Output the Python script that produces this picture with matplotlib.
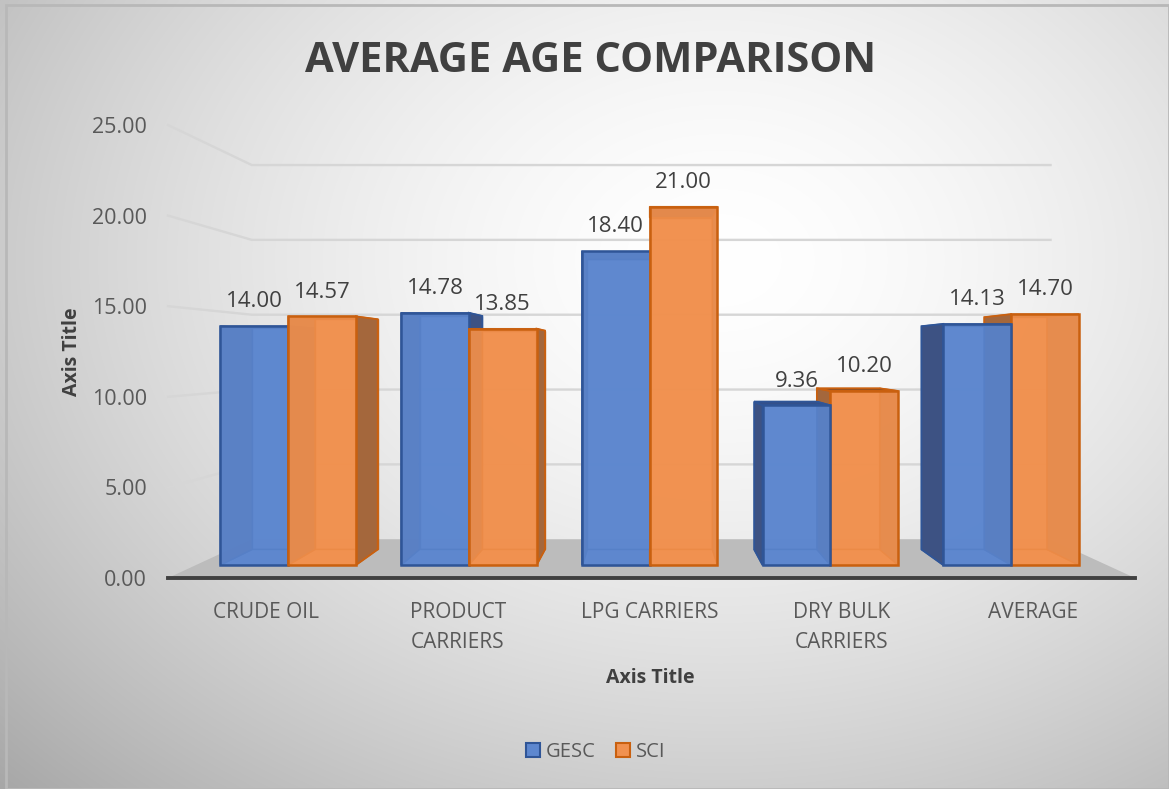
import numpy as np
import matplotlib
matplotlib.use("Agg")
import matplotlib.pyplot as plt
from matplotlib.patches import Polygon, Rectangle, Patch

plt.rcParams['font.family'] = ['Open Sans', 'DejaVu Sans']

categories = ["CRUDE OIL", "PRODUCT\nCARRIERS", "LPG CARRIERS", "DRY BULK\nCARRIERS", "AVERAGE"]
series_names = ["GESC", "SCI"]
gesc = [14.00, 14.78, 18.40, 9.36, 14.13]
sci = [14.57, 13.85, 21.00, 10.20, 14.70]
yticks = [0, 5, 10, 15, 20, 25]

# colours per series: front, side, top, edge
styles = {
    "GESC": dict(front="#5d87cf", side="#3d5283", top="#34508a", edge="#2f5597"),
    "SCI": dict(front="#f1914f", side="#a4673c", top="#8a4f26", edge="#c9600f"),
}

# fake 3d: one-point perspective around a vanishing point (data units)
VX, VY = 2.0, 12.3
S_FRONT, S_BACK, S_WALL = 0.942, 0.872, 0.826
XL, XR = -0.51, 4.53
BW = 0.375


def proj(x, y, s):
    return VX + (x - VX) * s, VY + (y - VY) * s


W, H = 1169, 789
fig = plt.figure(figsize=(W / 100, H / 100), dpi=100)

# chart background with radial gradient
bg = fig.add_axes([0, 0, 1, 1], zorder=-5)
bg.set_axis_off()
yy, xx = np.mgrid[0:H, 0:W]
d = np.sqrt(((xx - 720) / 820.0) ** 2 + ((yy - 260) / 620.0) ** 2)
val = 1 - 0.25 * np.clip(d, 0, 1.25) ** 1.6
bg.imshow(np.dstack([val, val, val]), extent=(0, W, H, 0), aspect='auto')
bg.add_patch(Rectangle((6, 5), W - 6, H - 5, fill=False, ec="#b8b8b8", lw=2))
bg.set_xlim(0, W)
bg.set_ylim(H, 0)

ax = fig.add_axes([168 / W, (H - 578) / H, (1135 - 168) / W, (578 - 125) / H])
ax.set_xlim(XL, XR)
ax.set_ylim(0, 25)
ax.patch.set_alpha(0)
for sp in ["top", "right", "left"]:
    ax.spines[sp].set_visible(False)
ax.spines["bottom"].set_color("#404040")
ax.spines["bottom"].set_linewidth(2.8)
ax.spines["bottom"].set_zorder(20)

ax.set_yticks(yticks)
ax.set_yticklabels([f"{t:.2f}" for t in yticks])
ax.set_xticks(range(len(categories)))
ax.set_xticklabels(categories, linespacing=1.6)
ax.tick_params(axis="y", length=0, pad=15, labelsize=15.5, labelcolor="#595959")
ax.tick_params(axis="x", length=0, pad=17, labelsize=15, labelcolor="#595959")

# walls gridlines: side wall then back wall
for t in yticks[1:]:
    x0, y0 = proj(XL, t, 1.0)
    x1, y1 = proj(XL, t, S_WALL)
    x2, y2 = proj(XR, t, S_WALL)
    ax.plot([x0, x1, x2], [y0, y1, y2], color="#d6d6d6", lw=1.7, zorder=1,
            solid_joinstyle="miter", clip_on=False)

# floor
floor = [proj(XL, 0, 1.0), proj(XR, 0, 1.0), proj(XR, 0, S_WALL), proj(XL, 0, S_WALL)]
ax.add_patch(Polygon(floor, closed=True, fc="#bcbcbc", ec="none", zorder=2))

bars = []
for i in range(len(categories)):
    bars.append((i - BW, i, gesc[i], "GESC"))
    bars.append((i, i + BW, sci[i], "SCI"))
bars.sort(key=lambda b: -abs((b[0] + b[1]) / 2 - VX))

z = 5
for x0, x1, v, name in bars:
    st = styles[name]
    def c(x, y, s):
        return proj(x, y, s)
    front = [c(x0, 0, S_FRONT), c(x1, 0, S_FRONT), c(x1, v, S_FRONT), c(x0, v, S_FRONT)]
    back = [c(x0, 0, S_BACK), c(x1, 0, S_BACK), c(x1, v, S_BACK), c(x0, v, S_BACK)]
    left = [c(x0, 0, S_FRONT), c(x0, 0, S_BACK), c(x0, v, S_BACK), c(x0, v, S_FRONT)]
    right = [c(x1, 0, S_FRONT), c(x1, 0, S_BACK), c(x1, v, S_BACK), c(x1, v, S_FRONT)]
    top = [c(x0, v, S_FRONT), c(x1, v, S_FRONT), c(x1, v, S_BACK), c(x0, v, S_BACK)]
    bottom = [c(x0, 0, S_FRONT), c(x1, 0, S_FRONT), c(x1, 0, S_BACK), c(x0, 0, S_BACK)]

    right_vis = x1 < VX
    left_vis = x0 > VX
    top_vis = v < VY

    hidden = [(back, st["front"]), (bottom, st["front"])]
    visible = []
    (visible if left_vis else hidden).append((left, st["side"]))
    (visible if right_vis else hidden).append((right, st["side"]))
    (visible if top_vis else hidden).append((top, st["top"]))

    for poly, col in hidden:
        ax.add_patch(Polygon(poly, closed=True, fc=col, ec=st["edge"], lw=1.0,
                             alpha=0.9, zorder=z))
    for poly, col in visible:
        ax.add_patch(Polygon(poly, closed=True, fc=col, ec=st["edge"], lw=1.3,
                             zorder=z + 0.1))
    ax.add_patch(Polygon(front, closed=True, fc=st["front"], ec="none",
                         alpha=0.86, zorder=z + 0.2))
    ax.add_patch(Polygon(front, closed=True, fc="none", ec=st["edge"], lw=1.8,
                         zorder=z + 0.3))
    z += 1

# data labels
for i in range(len(categories)):
    for x0, x1, v in [(i - BW, i, gesc[i]), (i, i + BW, sci[i])]:
        lx, ly = proj((x0 + x1) / 2, v, S_FRONT)
        ax.annotate(f"{v:.2f}", xy=(lx, ly), xytext=(0, 13.5), textcoords="offset points",
                    ha="center", va="baseline", fontsize=16, color="#404040",
                    zorder=40, annotation_clip=False)

fig.text(591 / W, 1 - 72 / H, "AVERAGE AGE COMPARISON", ha="center", va="baseline",
         fontsize=30, fontweight="bold", color="#404040")
fig.text(72 / W, 1 - 352 / H, "Axis Title", rotation=90, ha="center", va="center",
         fontsize=14, fontweight="bold", color="#404040")
fig.text(650 / W, 1 - 678 / H, "Axis Title", ha="center", va="center",
         fontsize=14, fontweight="bold", color="#404040")

handles = [Patch(fc=styles[n]["front"], ec=styles[n]["edge"], lw=1.5) for n in series_names]
fig.legend(handles, series_names, loc="center", bbox_to_anchor=(596 / W, 1 - 752 / H),
           ncol=2, frameon=False, fontsize=14.5, handlelength=0.7, handleheight=0.7,
           handletextpad=0.3, columnspacing=1.0, labelcolor="#595959")

fig.savefig("out.png", dpi=100)
